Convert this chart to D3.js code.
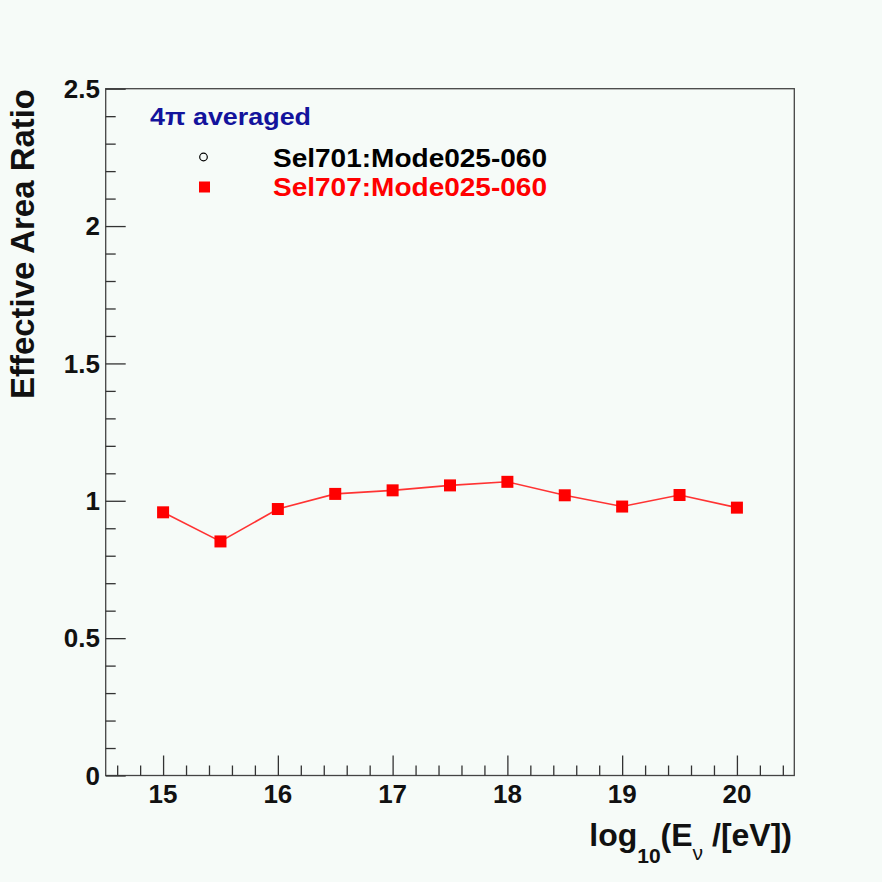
<!DOCTYPE html>
<html><head><meta charset="utf-8">
<script src="https://cdn.jsdelivr.net/npm/d3@7"></script>
<style>
html,body{margin:0;padding:0;background:#f6fbf8;}
svg{display:block;}
text{font-family:"Liberation Sans",Arial,Helvetica,sans-serif;font-weight:bold;}
</style></head>
<body>
<script>
const energies = [15, 15.5, 16, 16.5, 17, 17.5, 18, 18.5, 19, 19.5, 20];
const sel707 = [0.958, 0.852, 0.970, 1.025, 1.038, 1.056, 1.069, 1.020, 0.979, 1.021, 0.975];
const xTicks = [15, 16, 17, 18, 19, 20];
const yTicks = [0, 0.5, 1, 1.5, 2, 2.5];
const legendLabels = ["Sel701:Mode025-060", "Sel707:Mode025-060"];
const headerLabel = "4π averaged";

const W = 882, H = 882;
const m = {left: 105.7, right: 794.3, top: 88.7, bottom: 775.5};
const svg = d3.select("body").append("svg").attr("width", W).attr("height", H);
svg.append("rect").attr("width", W).attr("height", H).attr("fill", "#f6fbf8");

const x = d3.scaleLinear().domain([14.5, 20.5]).range([m.left, m.right]);
const y = d3.scaleLinear().domain([0, 2.5]).range([m.bottom, m.top]);

// frame
svg.append("rect").attr("x", m.left).attr("y", m.top)
  .attr("width", m.right - m.left).attr("height", m.bottom - m.top)
  .attr("fill", "none").attr("stroke", "#444").attr("stroke-width", 1.3);

// x axis ticks
const xMinor = d3.range(14.6, 20.5, 0.2).map(v => +v.toFixed(1)).filter(v => !xTicks.includes(v));
const xAxisMajor = d3.axisTop(x).tickValues(xTicks).tickSize(20).tickFormat("");
const xAxisMinor = d3.axisTop(x).tickValues(xMinor).tickSize(10).tickFormat("");
[xAxisMajor, xAxisMinor].forEach(a => {
  const g = svg.append("g").attr("transform", `translate(0,${m.bottom})`).call(a);
  g.select(".domain").remove();
  g.selectAll("line").attr("stroke", "#333").attr("stroke-width", 1.3);
});
svg.append("g").selectAll("text").data(xTicks).join("text")
  .attr("x", d => x(d)).attr("y", 802.5).attr("text-anchor", "middle")
  .attr("font-size", 26).attr("fill", "#111").text(d => d);

// y axis ticks
const yMinor = d3.range(0.1, 2.5, 0.1).map(v => +v.toFixed(1)).filter(v => !yTicks.includes(v));
const yAxisMajor = d3.axisRight(y).tickValues(yTicks).tickSize(20).tickFormat("");
const yAxisMinor = d3.axisRight(y).tickValues(yMinor).tickSize(10).tickFormat("");
[yAxisMajor, yAxisMinor].forEach(a => {
  const g = svg.append("g").attr("transform", `translate(${m.left},0)`).call(a);
  g.select(".domain").remove();
  g.selectAll("line").attr("stroke", "#333").attr("stroke-width", 1.3);
});
svg.append("g").selectAll("text").data(yTicks).join("text")
  .attr("x", 100).attr("y", d => y(d) + 9.3).attr("text-anchor", "end")
  .attr("font-size", 26).attr("fill", "#111").text(d => d);

// axis titles
const xt = svg.append("text").attr("x", 792).attr("y", 846).attr("text-anchor", "end")
  .attr("font-size", 32).attr("fill", "#111");
xt.append("tspan").text("log");
xt.append("tspan").attr("font-size", 21).attr("dy", 17).text("10");
xt.append("tspan").attr("dy", -17).text("(E");
xt.append("tspan").attr("font-size", 21).attr("font-weight", "normal").attr("dy", 14).text("ν");
xt.append("tspan").attr("dy", -14).text(" /[eV])");

svg.append("text").attr("transform", "translate(33.5,89) rotate(-90)")
  .attr("text-anchor", "end").attr("font-size", 34).attr("fill", "#111")
  .attr("textLength", 310).attr("lengthAdjust", "spacingAndGlyphs")
  .text("Effective Area Ratio");

// data line + markers
const line = d3.line().x((d, i) => x(energies[i])).y(d => y(d));
svg.append("path").datum(sel707).attr("d", line)
  .attr("fill", "none").attr("stroke", "#f33").attr("stroke-width", 1.6);
svg.append("g").selectAll("rect").data(sel707).join("rect")
  .attr("x", (d, i) => x(energies[i]) - 6).attr("y", d => y(d) - 6)
  .attr("width", 12).attr("height", 12).attr("fill", "#ff0000");

// legend
svg.append("text").attr("x", 150).attr("y", 125).attr("font-size", 23.5)
  .attr("textLength", 161).attr("lengthAdjust", "spacingAndGlyphs")
  .attr("fill", "#13139c").text(headerLabel);
svg.append("circle").attr("cx", 203.5).attr("cy", 157).attr("r", 3.8)
  .attr("fill", "none").attr("stroke", "#000").attr("stroke-width", 1.2);
svg.append("rect").attr("x", 199).attr("y", 181.5).attr("width", 11).attr("height", 11).attr("fill", "#ff0000");
svg.append("text").attr("x", 273).attr("y", 166.5).attr("font-size", 25.5)
  .attr("textLength", 274).attr("lengthAdjust", "spacingAndGlyphs")
  .attr("fill", "#000").text(legendLabels[0]);
svg.append("text").attr("x", 273).attr("y", 195.5).attr("font-size", 25.5)
  .attr("textLength", 274).attr("lengthAdjust", "spacingAndGlyphs")
  .attr("fill", "#ff0000").text(legendLabels[1]);
</script>
</body></html>
